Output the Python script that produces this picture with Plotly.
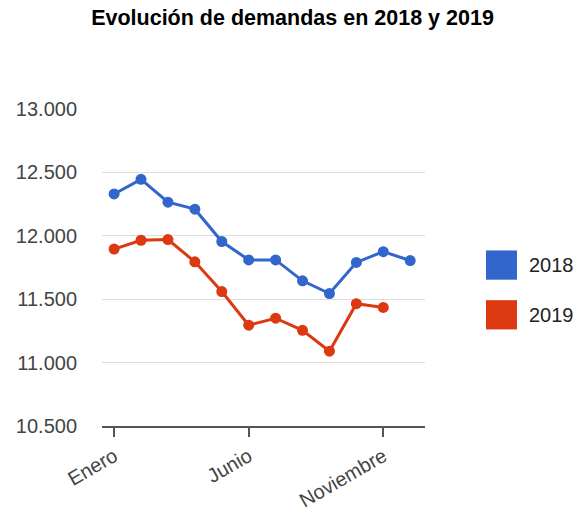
import plotly.graph_objects as go

# data
meses = ["Enero", "Febrero", "Marzo", "Abril", "Mayo", "Junio", "Julio",
         "Agosto", "Septiembre", "Octubre", "Noviembre", "Diciembre"]
demandas_2018 = [12330, 12445, 12265, 12210, 11955, 11810, 11810,
                 11645, 11545, 11790, 11875, 11805]
demandas_2019 = [11895, 11965, 11970, 11795, 11560, 11295, 11350,
                 11255, 11090, 11465, 11435]
series = ["2018", "2019"]
colores = ["#3366CC", "#DC3912"]
ticks_x = ["Enero", "Junio", "Noviembre"]
ticks_y = [10500, 11000, 11500, 12000, 12500, 13000]

W, H = 585, 523
L, R, T, B = 102, 160, 109, 89
FONT = "Liberation Sans, Arial, sans-serif"

fig = go.Figure()
for nombre, valores, color in zip(series, [demandas_2018, demandas_2019], colores):
    fig.add_trace(
        go.Scatter(
            x=meses[:len(valores)],
            y=valores,
            mode="lines+markers",
            name=nombre,
            line=dict(color=color, width=3),
            marker=dict(color=color, size=11),
            showlegend=False,
        )
    )

# legend drawn by hand: big square swatches like the original
def px_x(p):
    return (p - L) / (W - L - R)

def px_y(p):
    return (H - B - p) / (H - T - B)

for i, (nombre, color) in enumerate(zip(series, colores)):
    top = 254 + 51 * i
    fig.add_shape(
        type="rect", xref="paper", yref="paper",
        x0=px_x(486), x1=px_x(517), y0=px_y(top + 30), y1=px_y(top),
        fillcolor=color, line=dict(width=0),
    )
    fig.add_annotation(
        text=nombre, xref="paper", yref="paper",
        x=px_x(527), y=px_y(top + 15), xanchor="left", yanchor="middle",
        showarrow=False, font=dict(family=FONT, size=20, color="#222222"),
    )

fig.update_layout(
    width=W,
    height=H,
    margin=dict(l=L, r=R, t=T, b=B),
    paper_bgcolor="white",
    plot_bgcolor="white",
    separators=",.",
    font=dict(family=FONT, size=20, color="#444444"),
    title=dict(
        text="<b>Evolución de demandas en 2018 y 2019</b>",
        x=0.5, xref="container", xanchor="center",
        y=1 - 17 / H, yref="container", yanchor="middle",
        font=dict(family=FONT, size=21.5, color="#000000"),
    ),
    xaxis=dict(
        type="category",
        categoryorder="array",
        categoryarray=meses,
        range=[-0.45, 11.55],
        tickmode="array",
        tickvals=ticks_x,
        ticktext=ticks_x,
        tickangle=-30,
        ticks="outside",
        ticklen=9,
        tickwidth=2,
        tickcolor="#555555",
        showline=True,
        linecolor="#555555",
        linewidth=2,
        showgrid=False,
        zeroline=False,
        tickfont=dict(size=20, color="#444444"),
    ),
    yaxis=dict(
        range=[10500, 13000],
        tickmode="array",
        tickvals=ticks_y,
        tickformat=",d",
        showgrid=True,
        gridcolor="#dddddd",
        gridwidth=1,
        showline=False,
        zeroline=False,
        ticks="",
        ticklabelstandoff=24,
        tickfont=dict(size=20, color="#444444"),
    ),
)

# page body margin would shift the figure by 8px
fig.write_html(
    "out.html",
    config={"displayModeBar": False},
    post_script="document.body.style.margin='0';",
)
